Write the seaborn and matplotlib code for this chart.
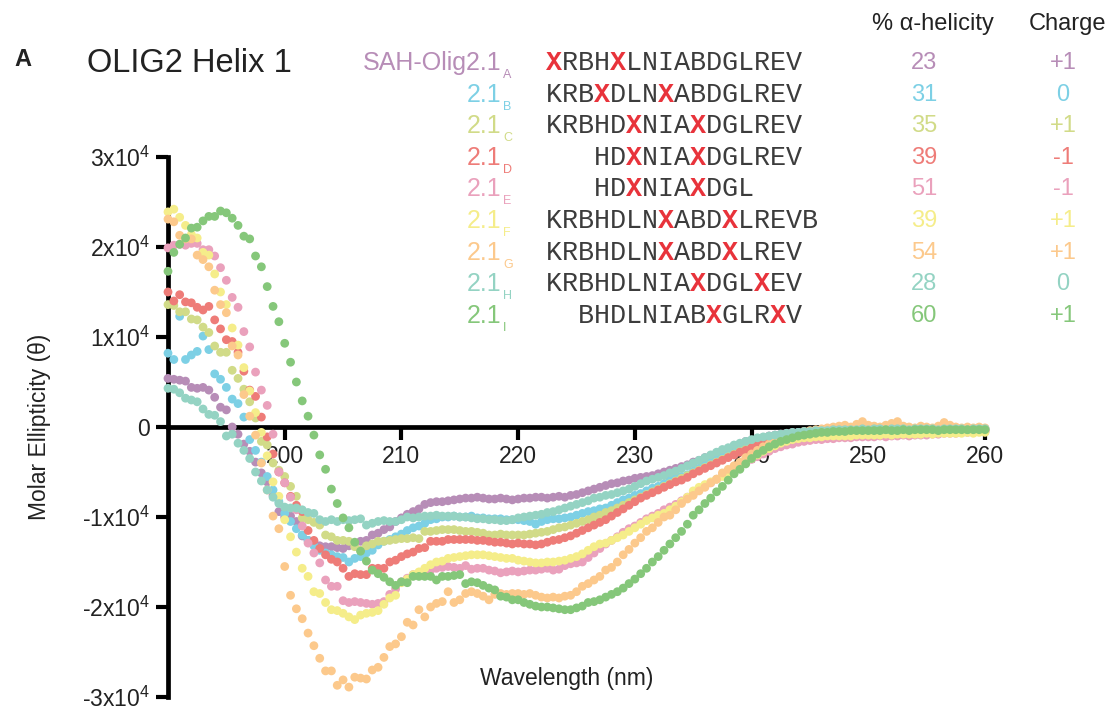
import numpy as np
import pandas as pd
import seaborn as sns
import matplotlib.pyplot as plt

# CD scans, 190-260 nm in 0.5 nm steps; values in units of 10^3 (deg cm2 dmol-1)
wavelength = np.arange(190, 260.5, 0.5)

olig_a = [
    5.4, 5.3, 5.2, 5.1, 4.4, 4.3, 4.4, 4.1, 3.3, 2.2,
    1.9, 0.0, -0.8, -1.9, -2.7, -3.9, -5.1, -6.1, -7.6, -9.4,
    -10.0, -9.9, -10.5, -12.1, -12.6, -12.7, -13.2, -13.3, -13.3, -13.4,
    -13.5, -13.2, -13.0, -12.7, -12.6, -12.0, -11.8, -11.4, -11.1, -10.5,
    -10.1, -9.7, -9.4, -9.1, -8.6, -8.4, -8.3, -8.3, -8.2, -8.1,
    -8.0, -7.9, -7.9, -7.8, -7.9, -8.0, -8.0, -7.9, -8.0, -8.1,
    -8.0, -7.9, -7.9, -7.8, -7.8, -7.9, -7.8, -7.7, -7.8, -7.6,
    -7.5, -7.3, -7.1, -6.9, -6.7, -6.5, -6.3, -6.2, -6.0, -5.9,
    -5.7, -5.6, -5.5, -5.4, -5.2, -5.0, -4.8, -4.6, -4.4, -4.2,
    -3.9, -3.7, -3.4, -3.2, -2.9, -2.6, -2.4, -2.1, -1.9, -1.6,
    -1.5, -1.3, -1.2, -1.0, -0.9, -0.8, -0.7, -0.6, -0.6, -0.5,
    -0.5, -0.4, -0.4, -0.4, -0.3, -0.3, -0.3, -0.3, -0.2, -0.3,
    -0.2, -0.3, -0.2, -0.2, -0.3, -0.2, -0.2, -0.3, -0.2, -0.2,
    -0.3, -0.2, -0.2, -0.2, -0.3, -0.2, -0.2, -0.3, -0.2, -0.2,
    -0.2,
]
olig_b = [
    8.2, 7.5, 12.3, 7.5, 8.0, 8.4, 10.1, 8.6, 5.9, 5.3,
    4.4, 3.1, 2.6, 1.1, -1.4, -2.6, -3.9, -5.5, -7.0, -8.3,
    -9.6, -10.5, -11.3, -12.0, -12.6, -13.2, -13.7, -14.0, -14.2, -14.4,
    -14.5, -15.0, -14.6, -14.4, -14.0, -13.7, -13.1, -12.7, -12.5, -12.2,
    -11.9, -11.5, -11.2, -11.0, -10.7, -10.3, -10.2, -10.0, -10.0, -9.9,
    -10.0, -10.0, -9.9, -10.1, -10.1, -10.2, -10.2, -10.2, -10.3, -10.3,
    -10.3, -10.4, -10.5, -10.8, -10.5, -10.3, -10.2, -10.2, -10.1, -10.0,
    -9.8, -9.6, -9.4, -9.3, -9.1, -9.0, -8.7, -8.4, -8.1, -7.9,
    -7.6, -7.4, -7.1, -6.8, -6.6, -6.3, -5.9, -5.7, -5.5, -5.3,
    -4.9, -4.6, -4.3, -3.9, -3.6, -3.2, -2.9, -2.6, -2.3, -2.0,
    -1.8, -1.5, -1.3, -1.1, -1.0, -0.9, -0.8, -0.7, -0.6, -0.6,
    -0.5, -0.5, -0.4, -0.4, -0.4, -0.3, -0.3, -0.3, -0.3, -0.3,
    -0.3, -0.3, -0.2, -0.3, -0.2, -0.3, -0.2, -0.2, -0.3, -0.2,
    -0.2, -0.3, -0.2, -0.2, -0.2, -0.3, -0.2, -0.2, -0.2, -0.2,
    -0.2,
]
olig_c = [
    13.6, 13.5, 12.8, 12.8, 12.0, 11.9, 11.1, 10.5, 9.0, 8.3,
    8.3, 6.3, 5.4, 4.2, 2.8, 1.0, -1.6, -2.0, -4.0, -4.8,
    -5.5, -6.6, -7.7, -10.1, -10.3, -10.6, -10.9, -12.0, -12.2, -12.6,
    -12.6, -12.7, -13.3, -13.7, -13.2, -13.0, -12.7, -12.7, -12.6, -12.5,
    -12.4, -12.4, -12.3, -12.4, -11.6, -11.6, -11.5, -11.4, -11.4, -11.4,
    -11.5, -11.6, -11.6, -11.7, -11.8, -12.0, -12.0, -11.9, -12.0, -12.0,
    -12.0, -12.0, -11.9, -11.8, -11.7, -11.6, -11.4, -11.2, -11.1, -10.9,
    -10.7, -10.5, -10.3, -10.0, -9.8, -9.5, -9.3, -9.0, -8.7, -8.4,
    -8.1, -7.8, -7.5, -7.2, -6.9, -6.6, -6.3, -6.0, -5.7, -5.4,
    -5.1, -4.8, -4.5, -4.2, -3.9, -3.6, -3.3, -3.0, -2.7, -2.4,
    -2.2, -1.9, -1.7, -1.5, -1.3, -1.2, -1.0, -0.9, -0.8, -0.7,
    -0.7, -0.6, -0.6, -0.5, -0.5, -0.5, -0.4, -0.4, -0.4, -0.4,
    -0.4, -0.3, -0.4, -0.3, -0.3, -0.4, -0.3, -0.3, -0.3, -0.3,
    -0.3, -0.3, -0.4, -0.3, -0.3, -0.3, -0.3, -0.3, -0.3, -0.3,
    -0.3,
]
olig_d = [
    15.0, 14.0, 14.7, 13.9, 13.8, 13.3, 13.0, 13.4, 11.9, 10.9,
    9.7, 9.5, 8.3, 6.2, 4.1, 3.4, 1.1, -1.1, -3.0, -5.0,
    -6.2, -7.7, -8.7, -9.4, -11.5, -12.6, -13.5, -14.2, -14.7, -15.0,
    -15.7, -16.6, -16.3, -16.4, -16.4, -15.7, -15.7, -15.7, -15.0, -14.8,
    -14.4, -14.1, -13.9, -13.5, -13.4, -12.7, -12.7, -12.7, -12.5, -12.5,
    -12.5, -12.5, -12.5, -12.6, -12.6, -12.7, -12.8, -12.8, -12.9, -13.0,
    -12.9, -13.0, -13.0, -13.1, -13.0, -12.8, -12.6, -12.5, -12.3, -12.1,
    -11.8, -11.5, -11.2, -10.9, -10.6, -10.3, -9.9, -9.5, -9.1, -8.7,
    -8.3, -7.9, -7.6, -7.3, -7.0, -6.7, -6.4, -6.1, -5.9, -5.6,
    -5.2, -4.9, -4.6, -4.3, -4.0, -3.7, -3.4, -3.1, -2.8, -2.6,
    -2.3, -2.0, -1.8, -1.5, -1.3, -1.2, -1.1, -1.0, -0.9, -0.8,
    -0.7, -0.7, -0.6, -0.6, -0.6, -0.5, -0.5, -0.5, -0.5, -0.5,
    -0.5, -0.5, -0.4, -0.5, -0.4, -0.5, -0.4, -0.4, -0.5, -0.4,
    -0.4, -0.4, -0.5, -0.4, -0.4, -0.4, -0.5, -0.4, -0.4, -0.4,
    -0.4,
]
olig_e = [
    19.9, 20.2, 20.3, 20.2, 20.4, 20.4, 19.7, 19.7, 19.0, 17.7,
    16.3, 14.4, 13.3, 10.6, 8.9, 6.1, 4.1, 2.4, -0.8, -5.0,
    -6.2, -7.8, -9.2, -11.0, -12.9, -14.0, -15.1, -17.0, -17.7, -17.7,
    -19.3, -19.5, -19.4, -19.5, -19.6, -19.7, -19.6, -19.4, -18.6, -18.0,
    -17.2, -16.8, -16.4, -16.5, -16.1, -15.9, -15.7, -15.6, -15.5, -15.6,
    -15.7, -15.4, -15.8, -15.7, -15.7, -15.9, -16.0, -16.2, -16.1, -16.0,
    -16.1, -16.0, -15.9, -15.9, -15.8, -15.7, -15.9, -15.8, -15.4, -15.2,
    -15.1, -15.0, -14.5, -14.0, -13.5, -13.0, -12.6, -12.2, -11.7, -11.3,
    -11.0, -10.6, -10.2, -9.9, -9.6, -9.2, -8.9, -8.6, -8.2, -7.8,
    -7.4, -7.0, -6.6, -6.2, -5.8, -5.4, -5.0, -4.6, -4.3, -4.0,
    -3.6, -3.3, -3.0, -2.7, -2.4, -2.2, -2.0, -1.9, -1.7, -1.6,
    -1.5, -1.4, -1.4, -1.3, -1.3, -1.2, -1.2, -1.2, -1.1, -1.1,
    -1.1, -1.1, -1.0, -1.1, -1.0, -1.0, -0.9, -1.0, -0.9, -0.9,
    -0.9, -0.8, -0.8, -0.7, -0.7, -0.7, -0.6, -0.6, -0.6, -0.5,
    -0.5,
]
olig_f = [
    23.9, 24.2, 23.3, 22.4, 21.4, 21.0, 19.4, 19.1, 17.0, 15.0,
    13.6, 11.0, 9.1, 6.6, 4.0, 1.6, -0.6, -3.2, -6.1, -7.7,
    -10.3, -12.2, -13.9, -15.7, -16.6, -18.3, -18.5, -19.5, -20.3, -20.4,
    -20.7, -21.1, -21.4, -20.9, -20.7, -20.6, -20.4, -19.7, -19.0, -18.7,
    -17.3, -16.9, -16.4, -16.1, -15.7, -15.3, -15.0, -14.9, -14.6, -14.5,
    -14.4, -14.3, -14.2, -14.2, -14.2, -14.3, -14.4, -14.5, -14.6, -14.6,
    -14.8, -14.9, -15.0, -15.1, -15.1, -15.0, -15.0, -14.9, -14.8, -14.6,
    -14.4, -14.1, -13.7, -13.3, -13.0, -12.9, -12.6, -12.3, -12.0, -11.6,
    -11.2, -10.8, -10.4, -10.1, -9.8, -9.6, -9.2, -8.8, -8.3, -7.8,
    -7.1, -6.7, -6.4, -6.1, -5.8, -5.5, -5.2, -4.8, -4.4, -4.0,
    -3.5, -3.1, -2.7, -2.4, -2.1, -1.8, -1.6, -1.4, -1.3, -1.2,
    -1.2, -1.1, -1.1, -1.0, -1.0, -1.0, -1.0, -1.0, -0.9, -0.9,
    -0.9, -0.9, -0.9, -0.8, -0.9, -0.8, -0.8, -0.8, -0.8, -0.8,
    -0.7, -0.8, -0.7, -0.7, -0.7, -0.7, -0.7, -0.6, -0.7, -0.6,
    -0.6,
]
olig_g = [
    23.1, 22.8, 21.3, 20.9, 20.9, 19.1, 18.6, 17.8, 15.2, 13.6,
    12.7, 9.0, 8.0, 3.6, 1.2, -0.9, -4.0, -7.0, -9.9, -11.3,
    -15.5, -18.7, -20.2, -21.3, -22.9, -24.3, -25.7, -27.1, -27.1, -28.7,
    -28.1, -28.9, -27.8, -27.9, -28.0, -27.0, -26.7, -25.6, -24.4, -24.1,
    -23.3, -21.7, -22.0, -20.3, -21.1, -20.0, -19.6, -19.4, -18.3, -19.5,
    -19.2, -18.5, -18.3, -18.5, -18.8, -19.2, -18.6, -18.5, -18.6, -18.5,
    -18.5, -18.6, -18.5, -18.7, -18.9, -19.0, -18.9, -19.0, -18.8, -18.7,
    -18.3, -17.7, -17.4, -17.0, -16.6, -15.9, -15.6, -15.0, -14.2, -13.6,
    -12.9, -12.3, -11.6, -11.2, -10.6, -10.0, -9.8, -9.2, -8.5, -8.0,
    -7.6, -7.1, -6.7, -6.2, -5.8, -5.1, -4.7, -4.3, -3.9, -3.4,
    -3.0, -2.6, -2.2, -1.9, -1.6, -1.3, -1.1, -0.9, -0.7, -0.5,
    -0.4, -0.3, -0.2, -0.1, 0.0, 0.1, 0.2, 0.0, 0.3, 0.6,
    0.2, 0.1, 0.0, 0.2, 0.4, 0.6, 0.1, 0.0, -0.1, 0.1,
    0.0, -0.1, 0.1, 0.5, 0.2, 0.0, -0.1, 0.0, -0.1, 0.0,
    -0.1,
]
olig_h = [
    4.3, 4.2, 3.8, 3.2, 3.0, 2.8, 2.0, 1.4, 1.3, 0.6,
    -1.0, -0.8, -1.8, -2.6, -3.5, -5.0, -6.0, -7.0, -7.8, -8.5,
    -8.9, -9.0, -9.0, -9.2, -9.5, -9.6, -10.3, -10.5, -10.3, -10.5,
    -10.3, -10.4, -10.3, -10.2, -10.9, -10.7, -10.5, -10.4, -10.5, -10.5,
    -10.3, -10.0, -10.1, -10.0, -9.9, -9.9, -9.8, -9.9, -9.9, -9.9,
    -10.0, -10.0, -10.1, -10.2, -10.2, -10.3, -10.3, -10.4, -10.4, -10.3,
    -10.1, -10.0, -9.9, -9.8, -9.7, -9.5, -9.4, -9.2, -9.0, -8.8,
    -8.6, -8.4, -8.2, -7.9, -7.8, -7.6, -7.5, -7.3, -7.1, -6.9,
    -6.6, -6.3, -6.0, -5.8, -5.6, -5.4, -5.1, -4.9, -4.6, -4.3,
    -4.0, -3.7, -3.4, -3.1, -2.8, -2.5, -2.3, -2.0, -1.8, -1.6,
    -1.4, -1.2, -1.1, -1.0, -0.9, -0.8, -0.7, -0.6, -0.6, -0.5,
    -0.5, -0.4, -0.4, -0.4, -0.3, -0.3, -0.3, -0.3, -0.3, -0.2,
    -0.3, -0.2, -0.2, -0.3, -0.2, -0.2, -0.2, -0.3, -0.2, -0.2,
    -0.2, -0.2, -0.3, -0.2, -0.2, -0.2, -0.2, -0.3, -0.2, -0.2,
    -0.2,
]
olig_i = [
    17.3, 19.4, 20.3, 21.0, 22.1, 22.2, 22.9, 23.4, 23.4, 24.0,
    23.8, 23.2, 22.4, 21.2, 20.9, 19.0, 17.8, 15.6, 13.4, 11.7,
    9.3, 7.2, 5.0, 2.9, 1.2, -0.9, -3.1, -4.7, -6.9, -8.5,
    -10.1, -11.2, -12.8, -13.8, -14.9, -15.9, -16.3, -16.7, -17.2, -17.6,
    -17.2, -17.3, -16.6, -16.6, -16.6, -16.6, -17.0, -16.6, -16.6, -16.5,
    -16.4, -17.4, -17.2, -17.3, -17.6, -17.9, -18.1, -18.8, -18.9, -19.2,
    -19.2, -19.5, -19.7, -19.9, -20.0, -20.0, -20.1, -20.2, -20.3, -20.3,
    -20.1, -19.9, -19.5, -19.4, -19.2, -18.9, -18.6, -18.3, -17.9, -17.4,
    -16.9, -16.3, -15.7, -15.0, -14.4, -13.7, -13.0, -12.3, -11.6, -10.8,
    -9.8, -9.2, -8.5, -7.9, -7.2, -6.6, -5.9, -5.2, -4.7, -4.1,
    -3.5, -3.0, -2.6, -2.2, -1.9, -1.6, -1.4, -1.2, -1.0, -0.9,
    -0.8, -0.7, -0.6, -0.6, -0.5, -0.5, -0.5, -0.4, -0.4, -0.4,
    -0.4, -0.4, -0.4, -0.3, -0.4, -0.4, -0.3, -0.4, -0.3, -0.3,
    -0.3, -0.3, -0.4, -0.3, -0.3, -0.3, -0.3, -0.3, -0.3, -0.3,
    -0.3,
]

letters = ["A", "B", "C", "D", "E", "F", "G", "H", "I"]
names = ["SAH-Olig2.1", "2.1", "2.1", "2.1", "2.1", "2.1", "2.1", "2.1", "2.1"]
sequences = [
    "XRBHXLNIABDGLREV",
    "KRBXDLNXABDGLREV",
    "KRBHDXNIAXDGLREV",
    "   HDXNIAXDGLREV",
    "   HDXNIAXDGL",
    "KRBHDLNXABDXLREVB",
    "KRBHDLNXABDXLREV",
    "KRBHDLNIAXDGLXEV",
    "  BHDLNIABXGLRXV",
]
helicity = ["23", "31", "35", "39", "51", "39", "54", "28", "60"]
charge = ["+1", "0", "+1", "-1", "-1", "+1", "+1", "0", "+1"]
colors = ["#B78DB7", "#7DD0E5", "#D1DB88", "#EE7C78", "#EAA1BC",
          "#F5ED8A", "#FCC98C", "#94D3C3", "#85C77A"]

series = [olig_a, olig_b, olig_c, olig_d, olig_e, olig_f, olig_g, olig_h, olig_i]
df = pd.concat(
    [pd.DataFrame({"wavelength": wavelength, "theta": np.array(v) * 1000, "peptide": k})
     for k, v in zip(letters, series)],
    ignore_index=True,
)

sns.set_theme(style="white")
plt.rcParams["font.family"] = ["Liberation Sans", "DejaVu Sans"]
plt.rcParams["mathtext.fontset"] = "custom"
plt.rcParams["mathtext.rm"] = "Liberation Sans"
plt.rcParams["mathtext.it"] = "Liberation Sans:italic"

W, H = 1112, 710
fig = plt.figure(figsize=(W / 100, H / 100), dpi=100)
ax = fig.add_axes([168 / W, 1 - 697 / H, 817 / W, 540 / H])

sns.scatterplot(data=df, x="wavelength", y="theta", hue="peptide", palette=colors,
                s=40, linewidth=0, legend=False, ax=ax, zorder=3, clip_on=False)

ax.set_xlim(190, 260)
ax.set_ylim(-30000, 30000)
for side in ["top", "right"]:
    ax.spines[side].set_visible(False)
ax.spines["bottom"].set_position(("data", 0))
for side in ["left", "bottom"]:
    ax.spines[side].set_linewidth(3.4)
    ax.spines[side].set_color("black")

ax.set_xticks([200, 210, 220, 230, 240, 250, 260])
ax.set_xticklabels(["200", "210", "220", "230", "240", "250", "260"])
ax.set_yticks([-30000, -20000, -10000, 0, 10000, 20000, 30000])
ax.set_yticklabels(["-3x10$^4$", "-2x10$^4$", "-1x10$^4$", "0",
                    "1x10$^4$", "2x10$^4$", "3x10$^4$"])
ax.tick_params(bottom=True, left=True, direction="out", length=9, width=3,
               color="black", labelsize=16.5, labelcolor="#222222", pad=4)
ax.set_xlabel("")
ax.set_ylabel("")


def px(x, y):
    return x / W, 1 - y / H


fig.text(*px(40, 427), "Molar Ellipticity (θ)", rotation=90, ha="center", va="center",
         fontsize=16.5, color="#222222")
fig.text(*px(567, 679), "Wavelength (nm)", ha="center", va="center",
         fontsize=16.5, color="#222222")
fig.text(*px(23, 59), "A", ha="center", va="center", fontsize=17, fontweight="bold",
         color="#222222")
fig.text(*px(87, 64), "OLIG2 Helix 1", ha="left", va="center", fontsize=23.5,
         color="#222222")
fig.text(*px(933, 24), "% α-helicity", ha="center", va="center", fontsize=17,
         color="#222222")
fig.text(*px(1068, 24), "Charge", ha="center", va="center", fontsize=17,
         color="#222222")

for i, letter in enumerate(letters):
    yc = 63 + 31.6 * i
    col = colors[i]
    fig.text(*px(501, yc), names[i], ha="right", va="center", fontsize=18, color=col)
    fig.text(*px(503, yc + 12), letter, ha="left", va="center", fontsize=9, color=col)
    seq = sequences[i]
    plain = "".join(" " if c == "X" else c for c in seq)
    marks = "".join("X" if c == "X" else " " for c in seq)
    fig.text(*px(546, yc), plain, ha="left", va="center", fontsize=19.3,
             family="Liberation Mono", color="#3c3c3c")
    fig.text(*px(546, yc), marks, ha="left", va="center", fontsize=19.3,
             family="Liberation Mono", fontweight="bold", color="#E8333B")
    fig.text(*px(924, yc), helicity[i], ha="center", va="center", fontsize=17, color=col)
    fig.text(*px(1063, yc), charge[i], ha="center", va="center", fontsize=17, color=col)

fig.savefig("out.png", dpi=100)
